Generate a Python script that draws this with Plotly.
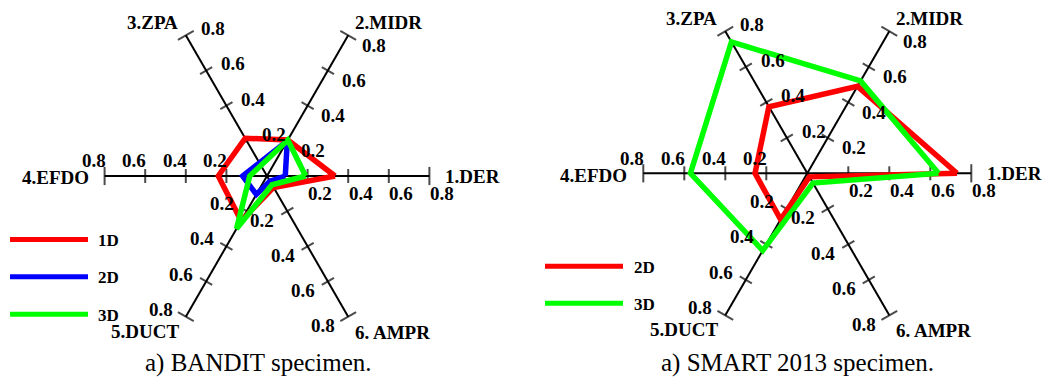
import math
import plotly.graph_objects as go

# ---------------- data ----------------
axis_names = ["1.DER", "2.MIDR", "3.ZPA", "4.EFDO", "5.DUCT", "6. AMPR"]
axis_angles = [0, 60, 120, 180, 240, 300]
tick_vals = [0.2, 0.4, 0.6, 0.8]
tick_text = ["0.2", "0.4", "0.6", "0.8"]

bandit_1d = [0.335, 0.205, 0.215, 0.24, 0.255, 0.065]
bandit_2d = [0.09, 0.20, 0.075, 0.12, 0.105, 0.03]
bandit_3d = [0.19, 0.205, 0.06, 0.085, 0.30, 0.05]

smart_2d = [0.73, 0.49, 0.375, 0.255, 0.26, 0.02]
smart_3d = [0.64, 0.52, 0.74, 0.57, 0.435, 0.055]

captions = ["a) BANDIT specimen.", "a) SMART 2013 specimen."]

# ---------------- style ----------------
RED = "rgb(255,0,0)"
BLUE = "rgb(0,0,255)"
GREEN = "rgb(0,255,0)"
SERIF = "Liberation Serif"
W, H = 1043, 381

# per-axis screen offsets (px) of tick labels and of axis names
tick_off = {0: (12.5, 17.0), 60: (25.7, 9.9), 120: (27.0, -6.6),
            180: (-11.0, -15.0), 240: (-24.8, -7.4), 300: (-24.9, 9.0)}
name_off = {0: (43.0, 0.5), 60: (40.3, -13.0), 120: (-33.7, -12.7),
            180: (-49.5, 2.0), 240: (-41.0, 14.5), 300: (44.5, 15.5)}

# polar panels: centre (px) and px per unit
panels = [dict(cx=267.0, cy=176.0, U=203.0, sub="polar"),
          dict(cx=807.3, cy=173.3, U=205.0, sub="polar2")]

fig = go.Figure()
annotations = []
shapes = []


def close(v):
    return list(v) + [v[0]]


def to_paper(px, py):
    return px / W, (H - py) / H


def add_frame(p):
    sub, U, cx, cy = p["sub"], p["U"], p["cx"], p["cy"]
    # tick marks and end caps
    rr, tt, ang, sz = [], [], [], []
    for th in axis_angles:
        for v in tick_vals:
            rr.append(v)
            tt.append(th)
            ang.append(-th)
            sz.append(13 if v == tick_vals[-1] else 10)
    fig.add_trace(go.Scatterpolar(
        r=rr, theta=tt, mode="markers", subplot=sub, showlegend=False,
        hoverinfo="skip", cliponaxis=False,
        marker=dict(symbol="line-ns", size=sz, angle=ang,
                    line=dict(color="black", width=2), color="black")))
    # tick labels and axis names (text annotations around the frame)
    for th, nm in zip(axis_angles, axis_names):
        t = math.radians(th)
        dx, dy = tick_off[th]
        for v, s in zip(tick_vals, tick_text):
            px = cx + v * U * math.cos(t) + dx
            py = cy - v * U * math.sin(t) + dy
            x, y = to_paper(px, py)
            annotations.append(dict(
                x=x, y=y, xref="paper", yref="paper", text=s, showarrow=False,
                xanchor="center", yanchor="middle",
                font=dict(family=SERIF, size=19, color="black", weight="bold")))
        ndx, ndy = name_off[th]
        px = cx + tick_vals[-1] * U * math.cos(t) + ndx
        py = cy - tick_vals[-1] * U * math.sin(t) + ndy
        x, y = to_paper(px, py)
        annotations.append(dict(
            x=x, y=y, xref="paper", yref="paper", text=nm, showarrow=False,
            xanchor="center", yanchor="middle",
            font=dict(family=SERIF, size=19, color="black", weight="bold")))


def add_series(sub, vals, color):
    fig.add_trace(go.Scatterpolar(
        r=close(vals), theta=close(axis_angles), mode="lines", subplot=sub,
        showlegend=False, hoverinfo="skip", cliponaxis=False,
        line=dict(color=color, width=5.5)))


add_frame(panels[0])
add_series("polar", bandit_1d, RED)
add_series("polar", bandit_2d, BLUE)
add_series("polar", bandit_3d, GREEN)

add_frame(panels[1])
add_series("polar2", smart_2d, RED)
add_series("polar2", smart_3d, GREEN)


def polar_layout(p):
    R = 0.8 * p["U"]
    x0, x1 = (p["cx"] - R) / W, (p["cx"] + R) / W
    y0, y1 = (H - (p["cy"] + R)) / H, (H - (p["cy"] - R)) / H
    return dict(
        domain=dict(x=[x0, x1], y=[y0, y1]),
        bgcolor="rgba(0,0,0,0)",
        radialaxis=dict(range=[0, 0.8], visible=False),
        angularaxis=dict(
            thetaunit="degrees", direction="counterclockwise", rotation=0,
            tickmode="array", tickvals=axis_angles, showticklabels=False,
            ticks="", showline=False, showgrid=True, gridcolor="black",
            gridwidth=2),
    )


# legends (drawn as layout decorations)
legend_sets = [
    dict(x0=10, x1=88, tx=96, items=[("1D", RED, 239.5), ("2D", BLUE, 276.7),
                                     ("3D", GREEN, 314.3)]),
    dict(x0=545, x1=623, tx=632, items=[("2D", RED, 266.3), ("3D", GREEN, 303.3)]),
]
for lg in legend_sets:
    for label, col, y in lg["items"]:
        shapes.append(dict(type="line", xref="paper", yref="paper",
                           x0=lg["x0"] / W, x1=lg["x1"] / W,
                           y0=(H - y) / H, y1=(H - y) / H,
                           line=dict(color=col, width=5)))
        annotations.append(dict(x=lg["tx"] / W, y=(H - y - 1) / H,
                                xref="paper", yref="paper", text=label,
                                showarrow=False, xanchor="left", yanchor="middle",
                                font=dict(family=SERIF, size=17, color="black",
                                          weight="bold")))

for cap, cx in zip(captions, [258, 797]):
    annotations.append(dict(x=cx / W, y=(H - 363) / H, xref="paper", yref="paper",
                            text=cap, showarrow=False, xanchor="center",
                            yanchor="middle",
                            font=dict(family=SERIF, size=25, color="black")))

fig.update_layout(
    width=W, height=H, margin=dict(l=0, r=0, t=0, b=0),
    paper_bgcolor="white", plot_bgcolor="white",
    polar=polar_layout(panels[0]), polar2=polar_layout(panels[1]),
    shapes=shapes, annotations=annotations, showlegend=False,
)

fig.write_html("out.html")
